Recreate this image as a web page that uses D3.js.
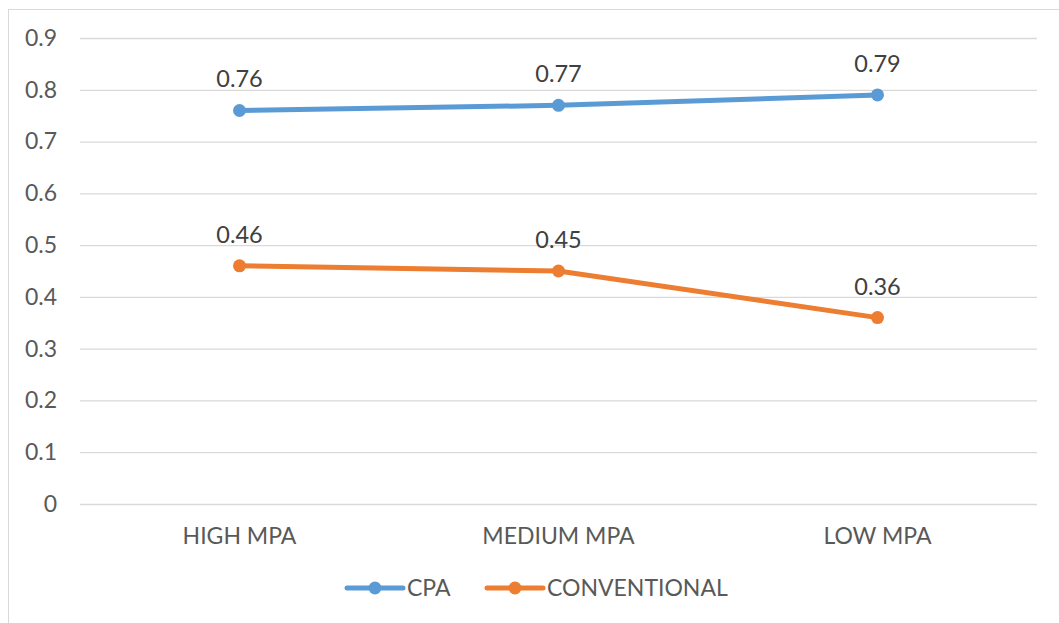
<!DOCTYPE html>
<html>
<head>
<meta charset="utf-8">
<script src="https://cdn.jsdelivr.net/npm/d3@7"></script>
<style>
  body { margin: 0; background: #fff; }
  svg text { font-family: Lato, "Noto Sans", sans-serif; }
</style>
</head>
<body>
<div class="container"></div>
<script>
const categories = ['HIGH MPA', 'MEDIUM MPA', 'LOW MPA'];
const cpaValues = [0.76, 0.77, 0.79];
const conventionalValues = [0.46, 0.45, 0.36];
const yTicks = [0, 0.1, 0.2, 0.3, 0.4, 0.5, 0.6, 0.7, 0.8, 0.9];

const series = [
    {name: 'CPA', values: cpaValues, color: '#5B9BD5'},
    {name: 'CONVENTIONAL', values: conventionalValues, color: '#ED7D31'}
];

const width = 1059, height = 623;
const margin = {top: 38, right: 22, bottom: 119, left: 80};

const svg = d3.select('.container')
    .append('svg')
    .attr('width', width)
    .attr('height', height);

// chart border (runs off the right and bottom edges)
svg.append('rect')
    .attr('x', 8.5).attr('y', 9.5)
    .attr('width', 1100).attr('height', 700)
    .attr('fill', 'none')
    .attr('stroke', '#d9d9d9');

const x = d3.scalePoint()
    .domain(categories)
    .range([margin.left, width - margin.right])
    .padding(0.5);

const y = d3.scaleLinear()
    .domain([0, 0.9])
    .range([height - margin.bottom, margin.top]);

// gridlines + y labels
const yAxis = svg.append('g')
    .attr('transform', `translate(${margin.left},0)`)
    .call(d3.axisLeft(y).tickValues(yTicks).tickSize(-(width - margin.left - margin.right)).tickPadding(23).tickFormat(d => d === 0 ? '0' : d3.format('.1f')(d)));
yAxis.select('.domain').remove();
yAxis.selectAll('.tick line').attr('stroke', '#d9d9d9').attr('stroke-width', 1.3);
yAxis.selectAll('.tick text').attr('fill', '#595959').style('font-size', '23px');

// x labels
svg.append('g')
    .selectAll('text')
    .data(categories)
    .enter().append('text')
    .attr('x', d => x(d))
    .attr('y', height - margin.bottom + 40)
    .attr('text-anchor', 'middle')
    .attr('fill', '#595959')
    .style('font-size', '23px')
    .text(d => d);

const line = d3.line()
    .x((d, i) => x(categories[i]))
    .y(d => y(d));

series.forEach(s => {
    const g = svg.append('g');
    g.append('path')
        .datum(s.values)
        .attr('d', line)
        .attr('fill', 'none')
        .attr('stroke', s.color)
        .attr('stroke-width', 5)
        .attr('stroke-linecap', 'round');
    g.selectAll('circle')
        .data(s.values)
        .enter().append('circle')
        .attr('cx', (d, i) => x(categories[i]))
        .attr('cy', d => y(d))
        .attr('r', 6.5)
        .attr('fill', s.color);
    g.selectAll('text')
        .data(s.values)
        .enter().append('text')
        .attr('x', (d, i) => x(categories[i]))
        .attr('y', d => y(d) - 23)
        .attr('text-anchor', 'middle')
        .attr('fill', '#404040')
        .style('font-size', '23.5px')
        .text(d => d);
});

// legend
const legendItems = [
    {name: 'CPA', color: '#5B9BD5', x: 347},
    {name: 'CONVENTIONAL', color: '#ED7D31', x: 487}
];
const legend = svg.append('g').attr('transform', 'translate(0,588)');
legendItems.forEach(l => {
    legend.append('line')
        .attr('x1', l.x).attr('x2', l.x + 56)
        .attr('stroke', l.color).attr('stroke-width', 5).attr('stroke-linecap', 'round');
    legend.append('circle')
        .attr('cx', l.x + 28).attr('r', 6.5).attr('fill', l.color);
    legend.append('text')
        .attr('x', l.x + 60).attr('dy', '0.35em')
        .attr('fill', '#595959')
        .style('font-size', '23px')
        .text(l.name);
});
</script>
</body>
</html>
